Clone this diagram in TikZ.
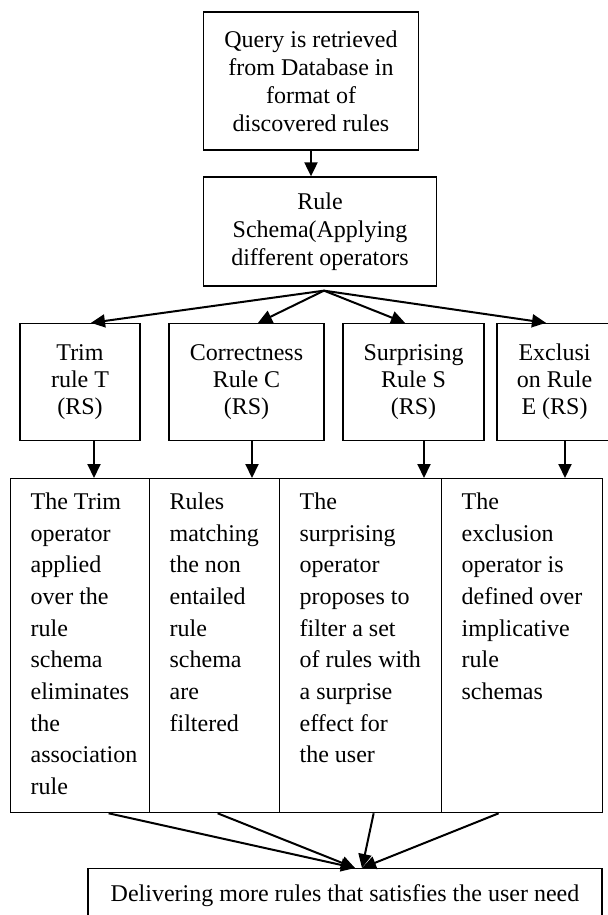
\documentclass[tikz,border=0pt]{standalone}
\usepackage{fontspec}
\setmainfont{Liberation Serif}
\usetikzlibrary{arrows.meta}

\tikzset{
    box/.style={draw, line width=0.65pt, align=center, inner sep=0pt, font=\fontsize{12pt}{14pt}\selectfont},
    rulebox/.style={box, minimum height=58.5pt, font=\fontsize{12pt}{13.5pt}\selectfont},
    opbox/.style={draw, line width=0.65pt, anchor=north west, inner xsep=10pt, inner ysep=7pt},
    flow/.style={line width=1pt, -{Triangle[length=7pt,width=6.5pt]}}
}
% text of the lower boxes, top aligned
\newcommand{\optext}[2]{\parbox[t][153pt][t]{#1}{\raggedright\fontsize{12pt}{15.85pt}\selectfont #2}}

\begin{document}
\begin{tikzpicture}[x=0.5pt, y=-0.5pt]
    \useasboundingbox (0,0) rectangle (608,915);

    \node[box, minimum width=107.25pt, minimum height=69pt] (query) at (311,81)
        {Query is retrieved\\from Database in\\format of\\discovered rules};
    \node[box, minimum width=116.75pt, minimum height=54.5pt] (schema) at (320,231.5)
        {Rule\\Schema(Applying\\different operators};

    \node[rulebox, minimum width=60pt] (trim) at (80,382) {Trim\\rule T\\(RS)};
    \node[rulebox, minimum width=77.5pt] (correct) at (246.5,382) {Correctness\\Rule C\\(RS)};
    \node[rulebox, minimum width=70.5pt] (surprise) at (413.5,382) {Surprising\\Rule S\\(RS)};
    \node[rulebox, minimum width=57.5pt] (exclude) at (554.5,382) {Exclusi\\on Rule\\E (RS)};

    \node[opbox] (trimop) at (10,478) {\optext{49.5pt}{The Trim\\operator\\applied\\over the\\rule\\schema\\eliminates\\the\\association\\rule}};
    \node[opbox] (correctop) at (149,478) {\optext{45pt}{Rules\\matching\\the non\\entailed\\rule\\schema\\are\\filtered}};
    \node[opbox] (surpriseop) at (279,478) {\optext{61pt}{The\\surprising\\operator\\proposes to\\filter a set\\of rules with\\a surprise\\effect for\\the user}};
    \node[opbox] (excludeop) at (441,478) {\optext{60.5pt}{The\\exclusion\\operator is\\defined over\\implicative\\rule\\schemas}};

    \node[box, anchor=north, minimum width=257pt, minimum height=27pt] (deliver) at (345,868)
        {Delivering more rules that satisfies the user need};

    % query -> schema
    \draw[flow] (query.south) -- (query.south |- schema.north);

    % schema fans out to the four operators
    \coordinate (fan) at ([xshift=2pt,yshift=-2pt]schema.south);
    \draw[flow] (fan) -- ([xshift=5.5pt]trim.north);
    \draw[flow] (fan) -- ([xshift=5.75pt]correct.north);
    \draw[flow] (fan) -- ([xshift=-4.25pt]surprise.north);
    \draw[flow] (fan) -- ([xshift=-4.25pt]exclude.north);

    % operator -> description
    \draw[flow] ([xshift=7pt]trim.south) -- ([xshift=7pt]trim.south |- trimop.north);
    \draw[flow] ([xshift=2.75pt]correct.south) -- ([xshift=2.75pt]correct.south |- correctop.north);
    \draw[flow] ([xshift=5.25pt]surprise.south) -- ([xshift=5.25pt]surprise.south |- surpriseop.north);
    \draw[flow] ([xshift=5.25pt]exclude.south) -- ([xshift=5.25pt]exclude.south |- excludeop.north);

    % descriptions -> result
    \draw[flow] ([xshift=14.25pt]trimop.south) -- ([xshift=5pt]deliver.north);
    \draw[flow] ([xshift=1.5pt]correctop.south) -- ([xshift=5pt]deliver.north);
    \draw[flow] ([xshift=6.5pt]surpriseop.south) -- ([xshift=8.5pt]deliver.north);
    \draw[flow] ([xshift=-11.75pt]excludeop.south) -- ([xshift=8.5pt]deliver.north);
\end{tikzpicture}
\end{document}
